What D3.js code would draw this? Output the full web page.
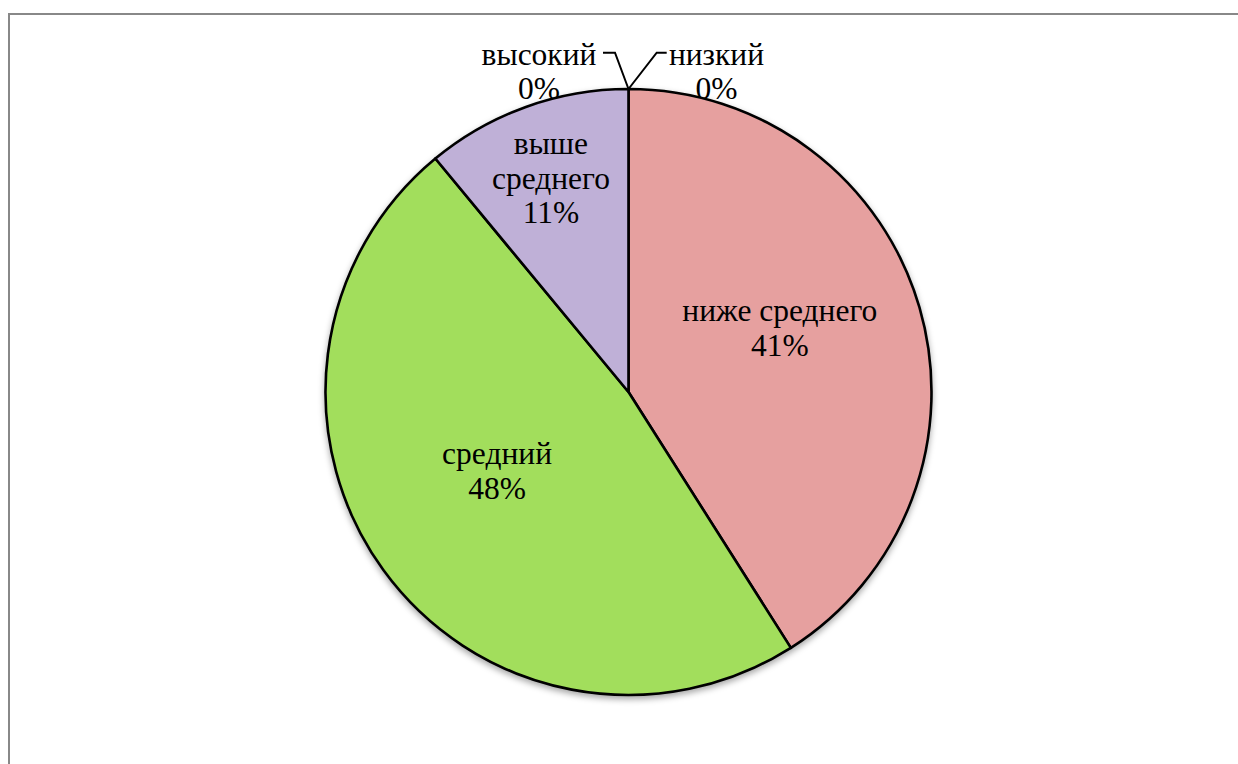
<!DOCTYPE html>
<html>
<head>
<meta charset="utf-8">
<script src="https://cdn.jsdelivr.net/npm/d3@7"></script>
</head>
<body style="margin:0">
<svg id="chart" width="1238" height="764"></svg>
<script>
// Распределение по уровням (в процентах)
const categories = ["низкий", "ниже среднего", "средний", "выше среднего", "высокий"];
const values = [0, 41, 48, 11, 0];
const sliceColors = ["#8db3e2", "#e6a09f", "#a2de5c", "#bfb0d7", "#f9b97d"];

const W = 1238, H = 764;
const FONT = '"Liberation Serif", "Times New Roman", monospace';
const svg = d3.select("#chart");

// рамка области диаграммы
svg.append("rect")
  .attr("x", 9).attr("y", 14)
  .attr("width", W).attr("height", H)
  .attr("fill", "#fff")
  .attr("stroke", "#888").attr("stroke-width", 2);

const defs = svg.append("defs");
const shadow = defs.append("filter").attr("id", "shadow")
  .attr("x", "-10%").attr("y", "-10%").attr("width", "120%").attr("height", "120%");
shadow.append("feDropShadow")
  .attr("dx", 0).attr("dy", 3).attr("stdDeviation", 3)
  .attr("flood-color", "#000").attr("flood-opacity", 0.35);

const cx = 628.5, cy = 392, R = 303;
const fontSize = 31.5, lineH = 34.5;

const pie = d3.pie().sort(null).value(d => d.value).startAngle(0).endAngle(2 * Math.PI);
const data = categories.map((c, i) => ({ name: c, value: values[i], color: sliceColors[i] }));
const arcs = pie(data);
const arc = d3.arc().innerRadius(0).outerRadius(R);

const g = svg.append("g").attr("transform", `translate(${cx},${cy})`);

g.append("g").attr("filter", "url(#shadow)")
  .selectAll("path")
  .data(arcs.filter(d => d.value > 0))
  .join("path")
  .attr("d", arc)
  .attr("fill", d => d.data.color)
  .attr("stroke", "#000")
  .attr("stroke-width", 2.6)
  .attr("stroke-linejoin", "round");

const fmt = v => Math.round(v) + "%";

// внутренние подписи: угол (град.) и доля радиуса
const inner = {
  "ниже среднего": { ang: 66.9, rf: 0.543, lines: d => ["ниже среднего", fmt(d.value)] },
  "средний": { ang: 239.2, rf: 0.505, lines: d => ["средний", fmt(d.value)] },
  "выше среднего": { ang: 340.1, rf: 0.752, lines: d => ["выше", "среднего", fmt(d.value)] }
};

// каждая строка подписи — отдельный элемент text
function block(x, y, lines) {
  const y0 = y - (lines.length - 1) * lineH / 2 + 0.35 * fontSize;
  lines.forEach((s, i) => {
    svg.append("text")
      .attr("x", cx + x).attr("y", cy + y0 + i * lineH)
      .attr("text-anchor", "middle")
      .attr("font-size", fontSize)
      .style("font-family", FONT)
      .text(s);
  });
}

arcs.filter(d => d.value > 0).forEach(d => {
  const p = inner[d.data.name];
  const a = p.ang * Math.PI / 180;
  block(Math.sin(a) * p.rf * R, -Math.cos(a) * p.rf * R, p.lines(d.data));
});

// внешние подписи нулевых секторов с выносками
const outer = {
  "высокий": { lx: -89.5, ly: -313, side: -1 },
  "низкий": { lx: 88, ly: -313, side: 1 }
};
arcs.filter(d => d.value === 0).forEach(d => {
  const p = outer[d.data.name];
  const tip = [Math.sin(d.startAngle) * R, -Math.cos(d.startAngle) * R];
  const elbowY = -339.3;
  const elbowX = p.side < 0 ? -13.5 : 28.2;
  const endX = p.side < 0 ? -25.5 : 38.2;
  g.append("polyline")
    .attr("points", [tip, [elbowX, elbowY], [endX, elbowY]].map(q => q.join(",")).join(" "))
    .attr("fill", "none").attr("stroke", "#000").attr("stroke-width", 2);
  block(p.lx, p.ly - 8, [d.data.name, fmt(d.value)]);
});
</script>
</body>
</html>
